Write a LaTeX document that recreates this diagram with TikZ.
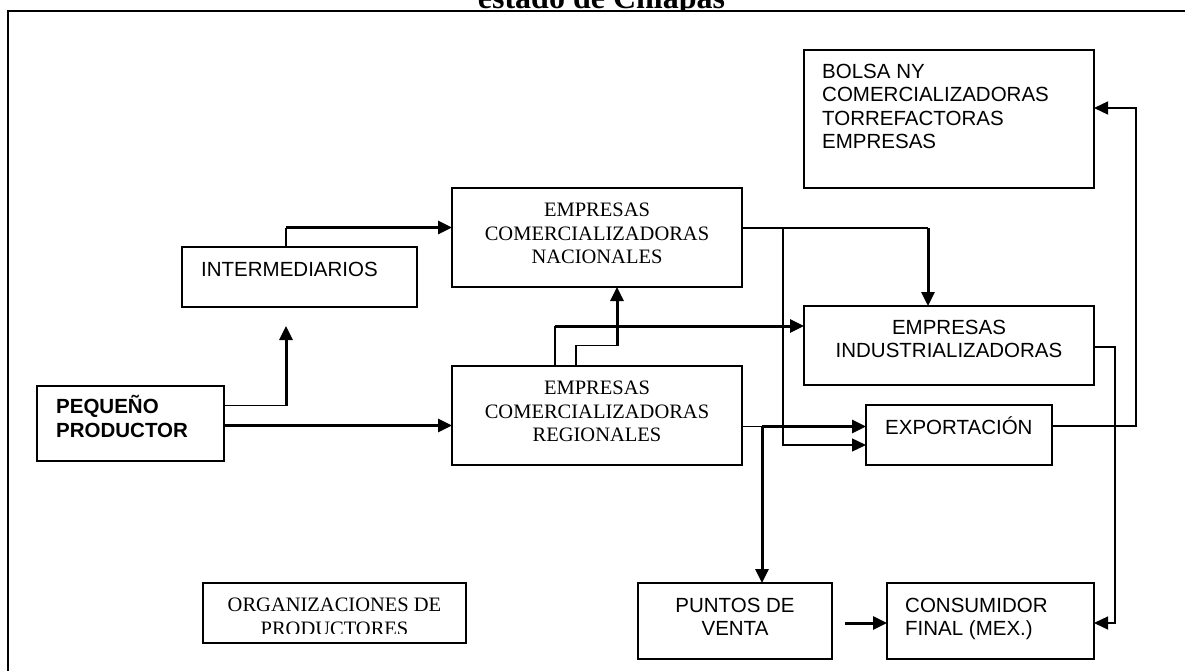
\documentclass[tikz,border=0pt]{standalone}
\usepackage{fontspec}
\setmainfont{Liberation Serif}
\newfontfamily\arialf{Liberation Sans}
\usetikzlibrary{arrows.meta,calc}
\begin{document}
\begin{tikzpicture}[x=1pt,y=-1pt,
  box/.style={draw, line width=1.6pt, inner sep=0pt, outer sep=0pt, anchor=north west},
  atxt/.style={inner sep=0pt, font=\arialf\fontsize{20.5}{23.3}\selectfont},
  ttxt/.style={inner sep=0pt, font=\fontsize{20.5}{23.5}\selectfont, align=center},
  thinln/.style={line width=1.4pt},
  thickln/.style={line width=3pt},
  thinarr/.style={thinln, -{Triangle[length=14pt,width=13pt]}},
  thickarr/.style={thickln, -{Triangle[length=14pt,width=13pt]}},
  frameln/.style={line width=2.5pt}]
\useasboundingbox (0,0) rectangle (1185,671);
% title (cut off at top)
\begin{scope}
  \clip (0,0) rectangle (1185,10.2);
  \node[inner sep=0pt, anchor=base, font=\bfseries\fontsize{32}{36}\selectfont] (title) at (601.5,8.5) {estado de Chiapas};
\end{scope}
% frame
\draw[frameln] (7.8,671) -- (7.8,11) -- (1185,11);
% boxes
\node[box, minimum width=235pt, minimum height=60pt] (int) at (182,247) {};
\node[box, minimum width=290pt, minimum height=99pt] (enc) at (452,188) {};
\node[box, minimum width=290pt, minimum height=99pt] (ecr) at (452,366) {};
\node[box, minimum width=290pt, minimum height=138pt] (bolsa) at (804,50) {};
\node[box, minimum width=290pt, minimum height=79pt] (ei) at (804,306) {};
\node[box, minimum width=186pt, minimum height=60pt] (exp) at (866,405) {};
\node[box, minimum width=187pt, minimum height=75pt] (pp) at (37,386) {};
\node[box, minimum width=263pt, minimum height=60pt] (org) at (203,583) {};
\node[box, minimum width=194pt, minimum height=76pt] (pv) at (638,583) {};
\node[box, minimum width=207pt, minimum height=76pt] (cf) at (887,583) {};
% texts
\node[atxt, anchor=west] (tint) at (201,269) {INTERMEDIARIOS};
\node[atxt, anchor=west, align=left] (tbolsa) at (822,106.4) {BOLSA NY\\COMERCIALIZADORAS\\TORREFACTORAS\\EMPRESAS};
\node[atxt, align=center] (tei) at (949,339) {EMPRESAS\\INDUSTRIALIZADORAS};
\node[atxt, anchor=base west] (texp) at (885,434.3) {EXPORTACIÓN};
\node[atxt, anchor=west, align=left, font=\arialf\bfseries\fontsize{20.5}{24}\selectfont] (tpp) at (56,416.5) {PEQUEÑO\\PRODUCTOR};
\node[atxt, align=center] (tpv) at (735,616.7) {PUNTOS DE\\VENTA};
\node[atxt, anchor=west, align=left] (tcf) at (905,618.9) {CONSUMIDOR\\FINAL (MEX.)};
\node[ttxt] (tenc) at (597,233.6) {EMPRESAS\\COMERCIALIZADORAS\\NACIONALES};
\node[ttxt] (tecr) at (597,411.5) {EMPRESAS\\COMERCIALIZADORAS\\REGIONALES};
\begin{scope}
  \clip (203,583) rectangle (466,633.8);
  \node[ttxt] (torg) at (334.5,616.75) {ORGANIZACIONES DE\\PRODUCTORES};
\end{scope}
% connectors
% INTERMEDIARIOS -> NACIONALES
\coordinate (k1) at (286,227.5);
\draw[thinln] (int.north -| k1) -- (k1);
\draw[thickarr] (k1) -- (k1 -| enc.west);
% PEQUENO PRODUCTOR -> INTERMEDIARIOS
\coordinate (k2) at (286,405.5);
\draw[thinln] (pp.east |- k2) -- (k2);
\draw[thickarr] (k2) -- ($(k2 |- int.south)+(0,19)$);
% PEQUENO PRODUCTOR -> REGIONALES
\coordinate (k3) at (0,425.5);
\draw[thickarr] (pp.east |- k3) -- (ecr.west |- k3);
% REGIONALES -> NACIONALES
\coordinate (k4a) at (576,345.5);
\coordinate (k4b) at (617,345.5);
\draw[thinln] (ecr.north -| k4a) -- (k4a) -- (k4b);
\draw[thickarr] (k4b) -- (k4b |- enc.south);
% REGIONALES -> INDUSTRIALIZADORAS
\coordinate (k5) at (555,326);
\draw[thinln] (ecr.north -| k5) -- (k5);
\draw[thickarr] (k5) -- (k5 -| ei.west);
% NACIONALES -> INDUSTRIALIZADORAS
\coordinate (k6) at (928,228);
\draw[thinln] (enc.east |- k6) -- (k6);
\draw[thickarr] (k6) -- (k6 |- ei.north);
% NACIONALES -> EXPORTACION
\coordinate (k7a) at (783,228);
\coordinate (k7b) at (783,445);
\draw[thinarr] (k7a) -- (k7b) -- (k7b -| exp.west);
% REGIONALES -> EXPORTACION and PUNTOS DE VENTA
\coordinate (k8) at (762,426.5);
\draw[thinln] (ecr.east |- k8) -- (k8);
\draw[thickarr] (k8) -- (k8 -| exp.west);
\draw[thickarr] (k8) -- (k8 |- pv.north);
% PUNTOS DE VENTA -> CONSUMIDOR
\coordinate (k10) at (0,623);
\draw[thickarr] ($(pv.east |- k10)+(13,0)$) -- (cf.west |- k10);
% INDUSTRIALIZADORAS -> CONSUMIDOR
\coordinate (k11a) at (1115,347);
\coordinate (k11b) at (1115,623);
\draw[thinarr] (ei.east |- k11a) -- (k11a) -- (k11b) -- (k11b -| cf.east);
% EXPORTACION -> BOLSA
\coordinate (k12a) at (1136,426);
\coordinate (k12b) at (1136,108);
\draw[thinarr] (exp.east |- k12a) -- (k12a) -- (k12b) -- (k12b -| bolsa.east);
\end{tikzpicture}
\end{document}
